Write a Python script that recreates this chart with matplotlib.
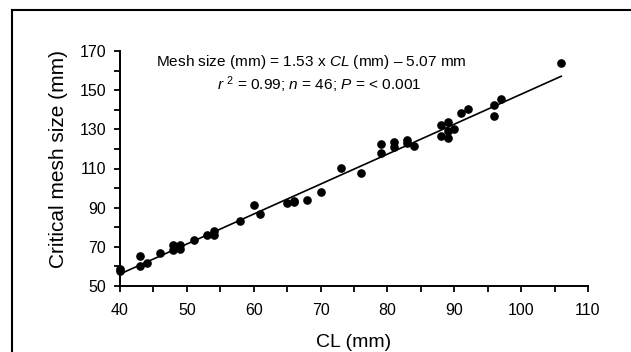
import matplotlib
matplotlib.use("Agg")
import matplotlib.pyplot as plt
from matplotlib.lines import Line2D
from matplotlib.ticker import MultipleLocator

plt.rcParams['font.family'] = ['Liberation Sans', 'DejaVu Sans']
plt.rcParams['mathtext.fontset'] = 'custom'
plt.rcParams['mathtext.rm'] = 'Liberation Sans'
plt.rcParams['mathtext.it'] = 'Liberation Sans:italic'

# Data
cl_mm = [40, 40, 43, 43, 44, 46, 48, 48, 49, 49, 51, 53, 54, 54, 58, 60, 61,
         65, 66, 66, 68, 70, 73, 76, 79, 79, 81, 81, 83, 83, 84, 88, 88,
         89, 89, 89, 90, 91, 92, 96, 96, 97, 106]
mesh_mm = [58.6, 57.6, 65.5, 60.2, 61.7, 66.9, 70.8, 68.2, 70.9, 68.9, 73.6, 76.2, 78.2, 76.0, 83.4, 91.4, 86.7,
           92.2, 93.6, 93.0, 94.1, 98.0, 110.5, 107.9, 122.3, 117.8, 123.3, 121.0, 124.3, 122.9, 121.7, 132.3, 126.5,
           133.5, 129.4, 125.5, 130.1, 138.1, 140.2, 142.6, 136.9, 145.5, 163.7]

slope = 1.53
intercept = -5.07
fit_range = [40, 106]

x_ticks = [40, 50, 60, 70, 80, 90, 100, 110]
y_ticks = [50, 70, 90, 110, 130, 150, 170]

fig = plt.figure(figsize=(6.31, 3.52), dpi=100)
ax = fig.add_axes([120/631, 1 - 286/352, (588-120)/631, (286-51)/352])

fit_y = [slope * v + intercept for v in fit_range]
ax.plot(fit_range, fit_y, color='black', lw=1.2, zorder=2)
ax.plot(cl_mm, mesh_mm, 'o', color='black', markersize=5.2, zorder=3, clip_on=False)

ax.set_xlim(40, 110)
ax.set_ylim(50, 170)
ax.set_xticks(x_ticks)
ax.set_yticks(y_ticks)
ax.xaxis.set_minor_locator(MultipleLocator(5))
ax.yaxis.set_minor_locator(MultipleLocator(10))
ax.tick_params(axis='both', which='both', direction='out', length=4, width=1.3, labelsize=11.5, colors='black')
ax.tick_params(axis='x', pad=8)
ax.tick_params(axis='y', pad=6)

for s in ['top', 'right']:
    ax.spines[s].set_visible(False)
for s in ['left', 'bottom']:
    ax.spines[s].set_linewidth(1.4)

ax.set_xlabel('CL (mm)', fontsize=14, labelpad=12)
ax.set_ylabel('Critical mesh size (mm)', fontsize=15)
ax.yaxis.set_label_coords(-0.111, 0.54)

ax.text(0.408, 0.953, r'Mesh size (mm) = 1.53 x $\it{CL}$ (mm) – 5.07 mm',
        transform=ax.transAxes, ha='center', va='center', fontsize=11.1)
ax.text(0.425, 0.855, r'$r$ $^{2}$ = 0.99; $n$ = 46; $P$ = < 0.001',
        transform=ax.transAxes, ha='center', va='center', fontsize=11.1)

# outer frame (left and top edges visible)
fig.add_artist(Line2D([12/631, 12/631], [0, 1 - 10/352], color='black', lw=1.5, transform=fig.transFigure))
fig.add_artist(Line2D([12/631, 1], [1 - 10/352, 1 - 10/352], color='black', lw=1.5, transform=fig.transFigure))

fig.savefig('out.png', dpi=100)
